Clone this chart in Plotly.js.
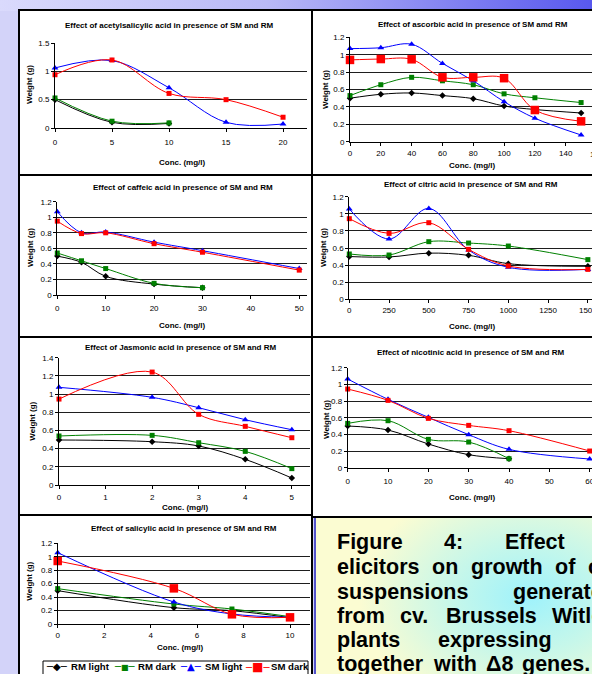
<!DOCTYPE html>
<html><head><meta charset="utf-8">
<script src="https://cdn.plot.ly/plotly-3.0.1.min.js"></script>
<style>
html,body{margin:0;padding:0;background:#d3d3f9;}
#wrap{position:relative;width:592px;height:674px;overflow:hidden;
background: linear-gradient(to right,#dadafc 0%,#b9b9f6 45%,#5858ee 100%) 0 0/100% 11px no-repeat, #d3d3f9;}
#cap{position:absolute;left:314px;top:517px;width:300px;height:160px;
background: radial-gradient(ellipse 170px 120px at 215px 80px, #9ef2fc 0%, #c6f7ea 45%, #fbfcd2 100%);}
#chart{position:absolute;left:0;top:0;width:592px;height:674px;}
</style></head><body><div id="wrap"><div id="cap"></div><div id="chart"></div></div>
<script>
// ---------- DATA ----------
const seriesNames = ['RM light', 'RM dark', 'SM light', 'SM dark'];

// acetylsalicylic acid
const acetylRMConc = [0, 5, 10];
const acetylSMConc = [0, 5, 10, 15, 20];
const acetylRMlight = [0.50, 0.10, 0.08];
const acetylRMdark = [0.53, 0.12, 0.09];
const acetylSMlight = [1.06, 1.19, 0.71, 0.10, 0.07];
const acetylSMdark = [0.94, 1.20, 0.61, 0.50, 0.19];

// ascorbic acid
const ascorbicConc = [0, 20, 40, 60, 80, 100, 120, 150];
const ascorbicRMlight = [0.50, 0.545, 0.56, 0.53, 0.495, 0.41, 0.37, 0.33];
const ascorbicRMdark = [0.53, 0.655, 0.74, 0.70, 0.655, 0.55, 0.505, 0.45];
const ascorbicSMlight = [1.07, 1.08, 1.12, 0.90, 0.70, 0.46, 0.27, 0.077];
const ascorbicSMdark = [0.94, 0.95, 0.947, 0.74, 0.74, 0.73, 0.364, 0.234];

// caffeic acid
const caffeicRMConc = [0, 5, 10, 20, 30];
const caffeicSMConc = [0, 5, 10, 20, 30, 50];
const caffeicRMlight = [0.50, 0.42, 0.24, 0.14, 0.094];
const caffeicRMdark = [0.54, 0.44, 0.34, 0.15, 0.094];
const caffeicSMlight = [1.07, 0.80, 0.81, 0.68, 0.57, 0.34];
const caffeicSMdark = [0.95, 0.79, 0.80, 0.66, 0.55, 0.32];

// citric acid
const citricConc = [0, 250, 500, 750, 1000, 1500];
const citricRMlight = [0.50, 0.495, 0.54, 0.514, 0.417, 0.386];
const citricRMdark = [0.53, 0.518, 0.674, 0.658, 0.623, 0.464];
const citricSMlight = [1.056, 0.705, 1.063, 0.577, 0.374, 0.35];
const citricSMdark = [0.943, 0.771, 0.896, 0.584, 0.39, 0.35];

// jasmonic acid
const jasmonicConc = [0, 2, 3, 4, 5];
const jasmonicRMlight = [0.495, 0.476, 0.429, 0.282, 0.077];
const jasmonicRMdark = [0.539, 0.546, 0.465, 0.37, 0.18];
const jasmonicSMlight = [1.074, 0.964, 0.85, 0.718, 0.608];
const jasmonicSMdark = [0.945, 1.242, 0.777, 0.645, 0.52];

// nicotinic acid
const nicotinicRMConc = [0, 10, 20, 30, 40];
const nicotinicSMConc = [0, 10, 20, 30, 40, 60];
const nicotinicRMlight = [0.50, 0.452, 0.284, 0.156, 0.108];
const nicotinicRMdark = [0.532, 0.564, 0.34, 0.308, 0.108];
const nicotinicSMlight = [1.064, 0.82, 0.604, 0.396, 0.22, 0.104];
const nicotinicSMdark = [0.944, 0.808, 0.592, 0.508, 0.444, 0.20];

// salicylic acid
const salicylicConc = [0, 5, 7.5, 10];
const salicylicRMlight = [0.496, 0.243, 0.198, 0.094];
const salicylicRMdark = [0.526, 0.297, 0.223, 0.109];
const salicylicSMlight = [1.061, 0.327, 0.149, 0.099];
const salicylicSMdark = [0.937, 0.53, 0.144, 0.099];

// tick labels
const acetylXTicks = [0, 5, 10, 15, 20];
const ascorbicXTicks = [0, 20, 40, 60, 80, 100, 120, 140, 160];
const caffeicXTicks = [0, 10, 20, 30, 40, 50];
const citricXTicks = [0, 250, 500, 750, 1000, 1250, 1500];
const jasmonicXTicks = [0, 1, 2, 3, 4, 5];
const nicotinicXTicks = [0, 10, 20, 30, 40, 50, 60];
const salicylicXTicks = [0, 2, 4, 6, 8, 10];
const weightTicks15 = [0, 0.5, 1, 1.5];
const weightTicks12 = [0, 0.2, 0.4, 0.6, 0.8, 1, 1.2];
const weightTicks14 = [0, 0.2, 0.4, 0.6, 0.8, 1, 1.2, 1.4];

const chartTitles = [
  'Effect of acetylsalicylic acid in presence of SM and RM',
  'Effect of ascorbic acid in presence of SM amd RM',
  'Effect of caffeic acid in presence of SM and RM',
  'Effect of citric acid in presence of SM and RM',
  'Effect of Jasmonic acid in presence of SM and RM',
  'Effect of nicotinic acid in presence of SM and RM',
  'Effect of salicylic acid in presence of SM and RM'
];
const xTitle = 'Conc. (mg/l)';
const yTitle = 'Weight (g)';

const captionLines = [
  ['Figure', '4:', 'Effect', 'of'],
  ['elicitors', 'on', 'growth', 'of', 'cell'],
  ['suspensions', 'generated'],
  ['from', 'cv.', 'Brussels', 'Witloof'],
  ['plants', 'expressing'],
  ['together', 'with', 'Δ8', 'genes.']
];

// ---------- LAYOUT HELPERS ----------
const W = 592, H = 674;
const fx = p => p / W;
const fy = p => 1 - p / H;

const panels = [
  {xs: [acetylRMConc, acetylRMConc, acetylSMConc, acetylSMConc], ys: [acetylRMlight, acetylRMdark, acetylSMlight, acetylSMdark],
   xt: acetylXTicks, yt: weightTicks15, L: 55, R: 307, T: 43, B: 128, xmax: 22.1, big: false, so: 3,
   title: [169, 25], xtl: [182, 163], ytl: [30, 85]},
  {xs: [ascorbicConc, ascorbicConc, ascorbicConc, ascorbicConc], ys: [ascorbicRMlight, ascorbicRMdark, ascorbicSMlight, ascorbicSMdark],
   xt: ascorbicXTicks, yt: weightTicks12, L: 350, R: 592, T: 37.3, B: 141.7, xmax: 157.07, big: true, so: 1,
   title: [473, 24.5], xtl: [472, 165.3], ytl: [325, 90]},
  {xs: [caffeicRMConc, caffeicRMConc, caffeicSMConc, caffeicSMConc], ys: [caffeicRMlight, caffeicRMdark, caffeicSMlight, caffeicSMdark],
   xt: caffeicXTicks, yt: weightTicks12, L: 57.3, R: 307, T: 201.7, B: 295, xmax: 51.6, big: false, so: 2,
   title: [182.5, 187.3], xtl: [182, 325], ytl: [30, 248]},
  {xs: [citricConc, citricConc, citricConc, citricConc], ys: [citricRMlight, citricRMdark, citricSMlight, citricSMdark],
   xt: citricXTicks, yt: weightTicks12, L: 349.3, R: 592, T: 196.7, B: 299.3, xmax: 1526, big: false, so: 0,
   title: [471, 184], xtl: [472, 326.7], ytl: [323, 248]},
  {xs: [jasmonicConc, jasmonicConc, jasmonicConc, jasmonicConc], ys: [jasmonicRMlight, jasmonicRMdark, jasmonicSMlight, jasmonicSMdark],
   xt: jasmonicXTicks, yt: weightTicks14, L: 59, R: 310, T: 357.7, B: 485, xmax: 5.39, big: false, so: 1,
   title: [180, 347.3], xtl: [185, 507.5], ytl: [33, 421.7]},
  {xs: [nicotinicRMConc, nicotinicRMConc, nicotinicSMConc, nicotinicSMConc], ys: [nicotinicRMlight, nicotinicRMdark, nicotinicSMlight, nicotinicSMdark],
   xt: nicotinicXTicks, yt: weightTicks12, L: 347.7, R: 592, T: 367.7, B: 467.7, xmax: 60.57, big: false, so: 3,
   title: [470, 352.7], xtl: [472, 497.3], ytl: [326, 420]},
  {xs: [salicylicConc, salicylicConc, salicylicConc, salicylicConc], ys: [salicylicRMlight, salicylicRMdark, salicylicSMlight, salicylicSMdark],
   xt: salicylicXTicks, yt: weightTicks12, L: 57.7, R: 310, T: 543.3, B: 624, xmax: 10.86, big: true, so: 0,
   title: [184, 528.3], xtl: [180, 647], ytl: [30, 581.7]}
];

const styles = [
  {color: '#000000', symbol: 'diamond', size: 5},
  {color: '#008000', symbol: 'square', size: 5},
  {color: '#0000ff', symbol: 'triangle-up', size: 6},
  {color: '#ff0000', symbol: 'square', size: 5}
];
const FONT = 'Liberation Sans, Arial, sans-serif';

const traces = [];
const layout = {
  width: W, height: H, margin: {l: 0, r: 0, t: 0, b: 0},
  paper_bgcolor: 'rgba(0,0,0,0)', plot_bgcolor: 'rgba(0,0,0,0)',
  font: {family: FONT, color: '#000'},
  showlegend: false, annotations: [], shapes: [], hovermode: false
};

// panel backgrounds & borders
const colX = [[19, 312], [312, 600]];
const leftRows = [[10, 175], [175, 337], [337, 515], [515, 680]];
const rightRows = [[10, 175], [175, 337], [337, 517]];
function rect(x0, x1, y0, y1, fill, lw) {
  layout.shapes.push({type: 'rect', xref: 'paper', yref: 'paper', layer: 'below',
    x0: fx(x0), x1: fx(x1), y0: fy(y1), y1: fy(y0), fillcolor: fill, line: {color: '#000', width: lw}});
}
leftRows.forEach(r => rect(colX[0][0], colX[0][1], r[0], r[1], '#ffffff', 2));
rightRows.forEach(r => rect(colX[1][0], colX[1][1], r[0], r[1], '#ffffff', 2));
rect(312, 600, 517, 680, 'rgba(0,0,0,0)', 2);
layout.shapes.push({type: 'line', xref: 'paper', yref: 'paper', layer: 'below',
  x0: fx(315), x1: fx(315), y0: fy(680), y1: fy(518), line: {color: '#1c1cc8', width: 1.5}});
rect(43, 308, 661, 680, '#ffffff', 1);

panels.forEach((p, i) => {
  const n = i + 1;
  const xa = 'xaxis' + (n > 1 ? n : ''), ya = 'yaxis' + (n > 1 ? n : '');
  const xr = 'x' + (n > 1 ? n : ''), yr = 'y' + (n > 1 ? n : '');
  const ymax = p.yt[p.yt.length - 1];
  const common = {showline: true, linecolor: '#000', linewidth: 1, ticks: 'outside', ticklen: 3,
    tickcolor: '#000', tickwidth: 1, tickfont: {size: 8, color: '#000', family: FONT}, zeroline: false,
    fixedrange: true, ticklabeloverflow: 'allow'};
  layout[xa] = Object.assign({}, common, {domain: [fx(p.L), fx(p.R)], range: [0, p.xmax], tickvals: p.xt,
    showgrid: false, anchor: yr, ticklabelstandoff: p.so});
  layout[ya] = Object.assign({}, common, {domain: [fy(p.B), fy(p.T)], range: [0, ymax], tickvals: p.yt,
    showgrid: true, gridcolor: '#1e1e1e', gridwidth: 1, anchor: xr});
  for (let s = 0; s < 4; s++) {
    const st = styles[s];
    const size = (s === 3 && p.big) ? 8.5 : st.size;
    traces.push({type: 'scatter', mode: 'lines+markers', x: p.xs[s], y: p.ys[s], xaxis: xr, yaxis: yr,
      name: seriesNames[s], showlegend: false, cliponaxis: false, hoverinfo: 'skip',
      line: {color: st.color, width: 1, shape: 'spline'},
      marker: {symbol: st.symbol, size: size, color: st.color, line: {width: 0}}});
  }
  const bold = {family: FONT, size: 8, color: '#000', weight: 'bold'};
  layout.annotations.push({xref: 'paper', yref: 'paper', x: fx(p.title[0]), y: fy(p.title[1]), text: chartTitles[i],
    showarrow: false, xanchor: 'center', yanchor: 'middle', font: bold});
  layout.annotations.push({xref: 'paper', yref: 'paper', x: fx(p.xtl[0]), y: fy(p.xtl[1]), text: xTitle,
    showarrow: false, xanchor: 'center', yanchor: 'middle', font: bold});
  layout.annotations.push({xref: 'paper', yref: 'paper', x: fx(p.ytl[0]), y: fy(p.ytl[1]), text: yTitle,
    showarrow: false, xanchor: 'center', yanchor: 'middle', textangle: -90, font: bold});
  // tick labels lying past the page edge (only partly visible)
  p.xt.forEach(v => {
    if (v > p.xmax) {
      const d = layout[xa].domain;
      layout.annotations.push({xref: 'paper', yref: 'paper', x: d[0] + (v / p.xmax) * (d[1] - d[0]), y: fy(p.B + 12.3),
        text: String(v), showarrow: false, xanchor: 'center', yanchor: 'middle', font: {family: FONT, size: 8, color: '#000'}});
    }
  });
});

// legend row (key glyphs + names) inside the drawn box
const legendKeys = ['─◆─', '─<span style="font-size:8px">■</span>─', '─▲─', '─<span style="font-size:12px">■</span>─'];
const legendKeyX = [57, 125, 191, 257];
const legendTextX = [69, 136, 202.5, 268.5];
const legendY = 666.5;
seriesNames.forEach((nm, k) => {
  layout.annotations.push({xref: 'paper', yref: 'paper', x: fx(legendKeyX[k]), y: fy(legendY), text: legendKeys[k],
    showarrow: false, xanchor: 'center', yanchor: 'middle',
    font: {family: 'DejaVu Sans', size: 10, color: styles[k].color}});
  layout.annotations.push({xref: 'paper', yref: 'paper', x: fx(legendTextX[k]), y: fy(legendY), text: nm,
    showarrow: false, xanchor: 'left', yanchor: 'middle',
    font: {family: FONT, size: 9.6, color: '#000', weight: 'bold'}});
});

// caption (justified words, cut by the page edge like the original slide)
const captionY = [541.5, 566.5, 591.5, 616, 640, 663.5];
const captionX = [
  [334.5, 442, 503, 605],
  [334.5, 430, 468.5, 553, 586],
  [334.5, 511],
  [334.5, 398, 444, 550],
  [334.5, 436.5],
  [334.5, 431, 484, 520]
];
captionLines.forEach((words, li) => {
  words.forEach((w, wi) => {
    layout.annotations.push({xref: 'paper', yref: 'paper', x: fx(captionX[li][wi]), y: fy(captionY[li]),
      text: w, showarrow: false, xanchor: 'left', yanchor: 'middle',
      font: {family: FONT, size: 21.5, color: '#000', weight: 'bold'}});
  });
});

Plotly.newPlot('chart', traces, layout, {displayModeBar: false, staticPlot: true});
</script></body></html>
